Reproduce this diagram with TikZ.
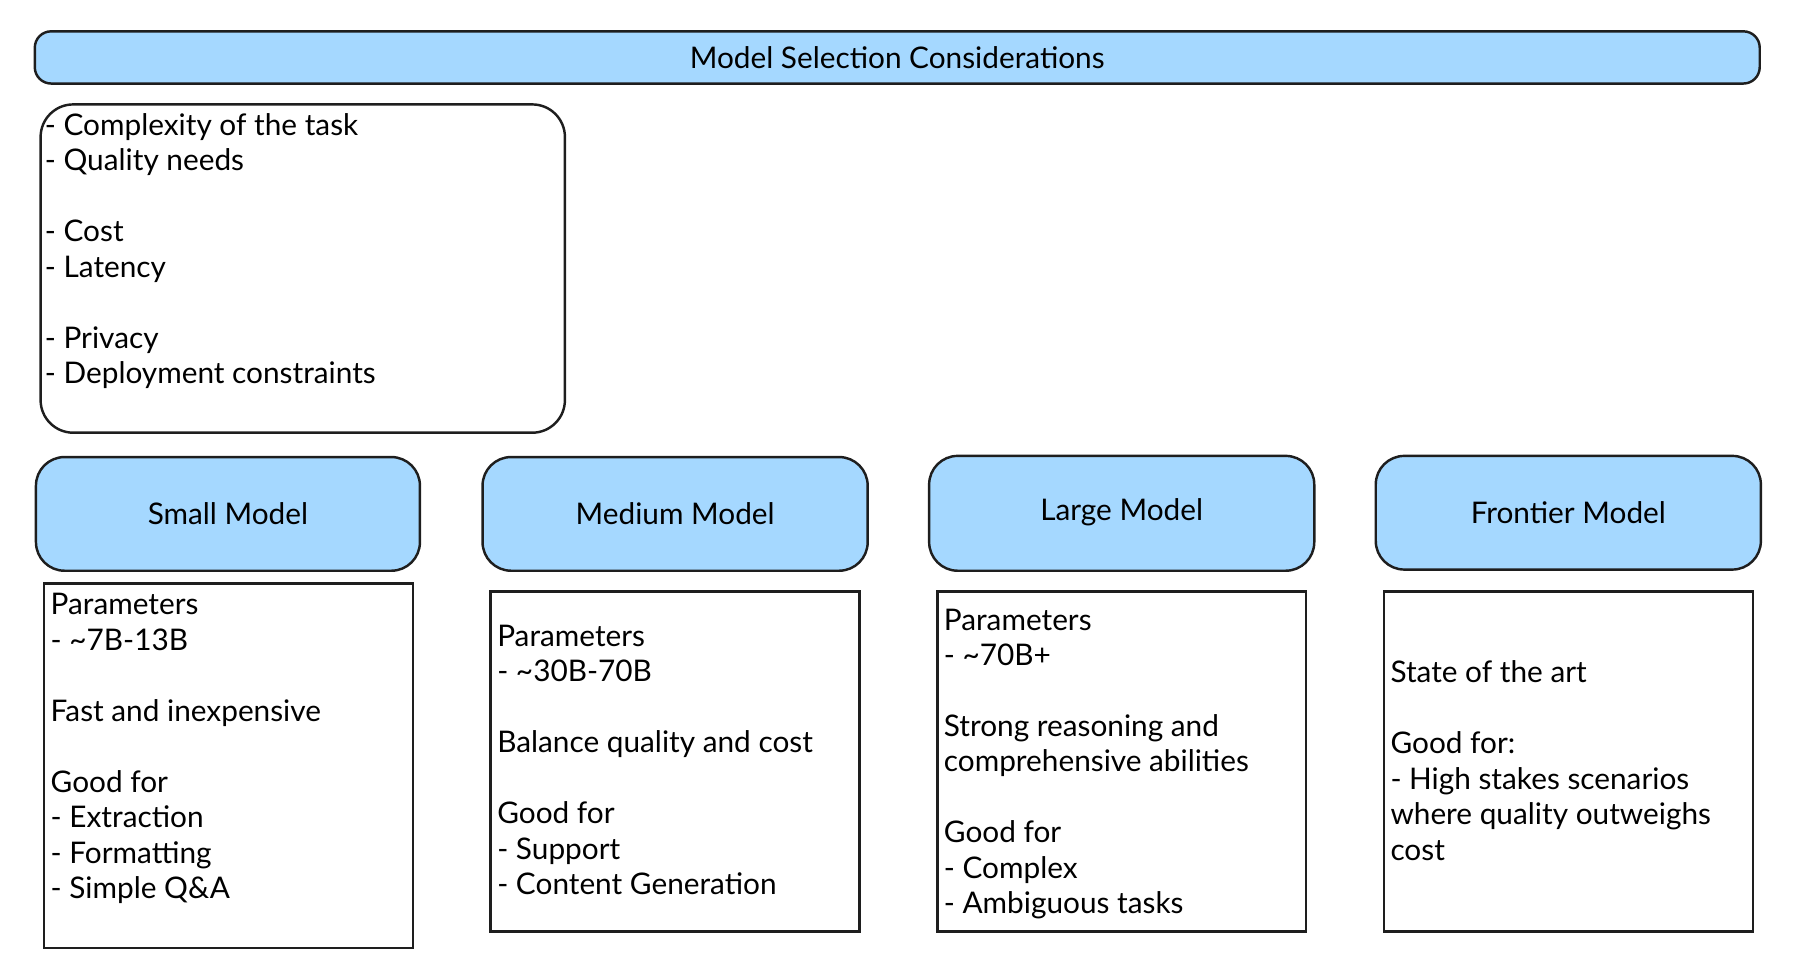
\documentclass[tikz,border=0pt]{standalone}
\usepackage{fontspec}
\setmainfont{Lato}
\definecolor{modelblue}{HTML}{A5D8FF}
\definecolor{inkline}{HTML}{1E1E1E}
\tikzset{
  headbox/.style={draw=inkline, line width=0.6pt, fill=modelblue, rounded corners=4pt},
  modelbox/.style={draw=inkline, line width=0.6pt, fill=modelblue, rounded corners=7pt},
  listbox/.style={draw=inkline, line width=0.6pt, rounded corners=8pt},
  infobox/.style={draw=inkline, line width=0.6pt},
  txt/.style={font=\fontsize{7.3}{8.7}\selectfont, inner sep=0pt, align=left, anchor=north west}
}
\begin{document}
\begin{tikzpicture}[x=0.01cm, y=-0.01cm]
  \useasboundingbox (0,0) rectangle (1550,832);
  % header
  \draw[headbox] (30,27) rectangle (1517,72);
  \node[font=\fontsize{7.3}{8.7}\selectfont] (title) at (773.5,49.5) {Model Selection Considerations};
  % considerations
  \draw[listbox] (35,90) rectangle (487,373);
  \node[txt] (factors) at (38,97) {- Complexity of the task\\- Quality needs\\~\\- Cost\\- Latency\\~\\- Privacy\\- Deployment constraints};
  % model headers
  \draw[modelbox] (31,394) rectangle (362,492);
  \node[font=\fontsize{7.3}{8.7}\selectfont] (small) at (196.5,443) {Small Model};
  \draw[modelbox] (416,394) rectangle (748,492);
  \node[font=\fontsize{7.3}{8.7}\selectfont] (medium) at (582,443) {Medium Model};
  \draw[modelbox] (801,393) rectangle (1133,492);
  \node[font=\fontsize{7.3}{8.7}\selectfont] (large) at (967,442) {Large Model};
  \draw[modelbox] (1186,393) rectangle (1518,491);
  \node[font=\fontsize{7.3}{8.7}\selectfont] (frontier) at (1352,442) {Frontier Model};
  % model details
  \draw[infobox] (38,503) rectangle (356,817);
  \node[txt] (smallinfo) at (43,511) {Parameters\\- \textasciitilde7B-13B\\~\\Fast and inexpensive\\~\\Good for\\- Extraction\\- Formatting\\- Simple Q\&A};
  \draw[infobox] (423,510) rectangle (741,803);
  \node[txt] (mediuminfo) at (428,538) {Parameters\\- \textasciitilde30B-70B\\~\\Balance quality and cost\\~\\Good for\\- Support\\- Content Generation};
  \draw[infobox] (808,510) rectangle (1126,803);
  \node[txt] (largeinfo) at (813,524) {Parameters\\- \textasciitilde70B+\\~\\Strong reasoning and\\comprehensive abilities\\~\\Good for\\- Complex\\- Ambiguous tasks};
  \draw[infobox] (1193,510) rectangle (1511,803);
  \node[txt] (frontierinfo) at (1198,569) {State of the art\\~\\Good for:\\- High stakes scenarios\\where quality outweighs\\cost};
\end{tikzpicture}
\end{document}
